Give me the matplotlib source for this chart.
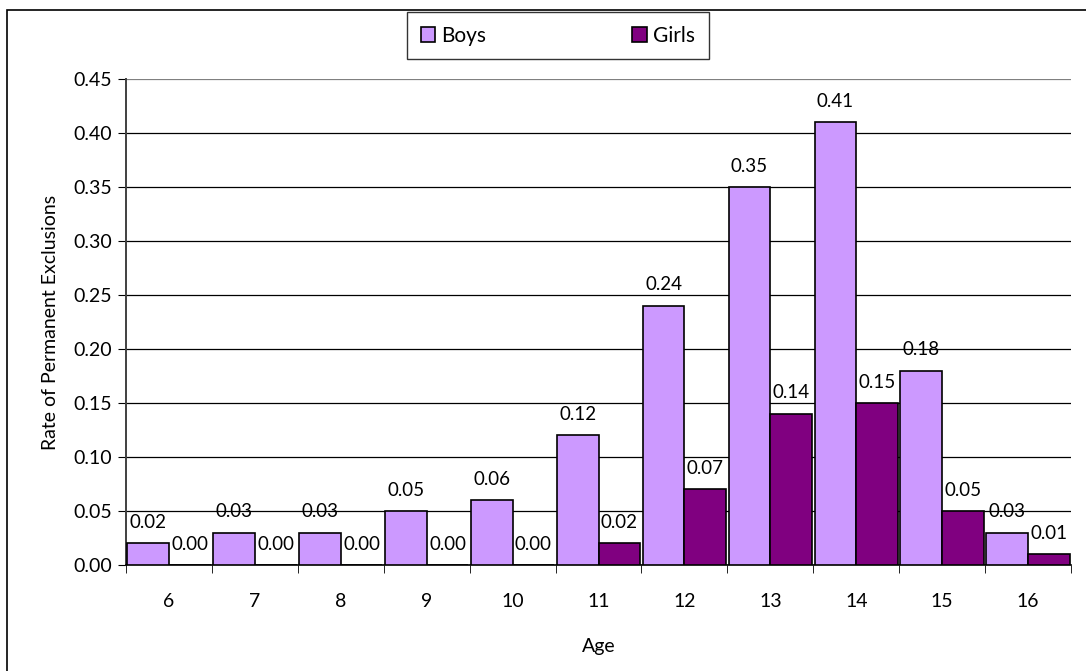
import numpy as np
import matplotlib
matplotlib.use("Agg")
from matplotlib import pyplot as plt
from matplotlib.patches import Rectangle

ages = ["6", "7", "8", "9", "10", "11", "12", "13", "14", "15", "16"]
boys = [0.02, 0.03, 0.03, 0.05, 0.06, 0.12, 0.24, 0.35, 0.41, 0.18, 0.03]
girls = [0.00, 0.00, 0.00, 0.00, 0.00, 0.02, 0.07, 0.14, 0.15, 0.05, 0.01]

plt.rcParams['font.family'] = ['Lato', 'DejaVu Sans']

fig = plt.figure(figsize=(10.86, 6.71), dpi=100)
ax = fig.add_axes([126 / 1086, 1 - 565 / 671, (1071 - 126) / 1086, (565 - 79) / 671])

# border around the whole chart (right and bottom run off the image)
fig.patches.append(Rectangle((7 / 1086, -0.05), 1.0, 1.05 - 10 / 671,
                             transform=fig.transFigure, fill=False,
                             edgecolor='black', linewidth=1.2))

x = np.arange(len(ages))
w = 0.485
b1 = ax.bar(x - w / 2, boys, w, color='#CC99FF', edgecolor='black', linewidth=1.2,
            label='Boys', zorder=3)
b2 = ax.bar(x + w / 2, girls, w, color='#800080', edgecolor='black', linewidth=1.2,
            label='Girls', zorder=3)

for xi, v in zip(x, boys):
    ax.annotate(f"{v:.2f}", (xi - w / 2, v), xytext=(0, 9), textcoords='offset points',
                ha='center', va='bottom', fontsize=13.5, zorder=4)
for xi, v in zip(x, girls):
    ax.annotate(f"{v:.2f}", (xi + w / 2, v), xytext=(0, 9), textcoords='offset points',
                ha='center', va='bottom', fontsize=13.5, zorder=4)

ax.set_xlim(-0.5, len(ages) - 0.5)
ax.set_ylim(0, 0.45)
yt = np.arange(0, 0.451, 0.05)
ax.set_yticks(yt)
ax.set_yticklabels([f"{t:.2f}" for t in yt], fontsize=14)
ax.yaxis.grid(True, color='black', linewidth=0.9, zorder=0)
ax.get_ygridlines()[-1].set_color('#808080')
ax.set_axisbelow(True)

ax.set_xticks(x)
ax.set_xticklabels(ages, fontsize=14)
ax.tick_params(axis='x', length=0, pad=20)
ax.set_xticks(np.arange(-0.5, len(ages), 1), minor=True)
ax.tick_params(axis='x', which='minor', length=6, color='black', direction='out')
ax.tick_params(axis='y', length=6, color='black', direction='out', pad=4)

for s in ['top', 'right']:
    ax.spines[s].set_visible(False)
ax.spines['left'].set_color('#404040')
ax.spines['left'].set_linewidth(1.4)
ax.spines['bottom'].set_color('black')
ax.spines['bottom'].set_linewidth(1.2)

ax.set_xlabel("Age", fontsize=14, labelpad=20)
ax.set_ylabel("Rate of Permanent Exclusions", fontsize=14, labelpad=10)

leg = fig.legend(handles=[b1, b2], loc='upper center', ncol=2,
                 bbox_to_anchor=(558 / 1086, 1 - 12 / 671), frameon=True,
                 fancybox=False, edgecolor='black', fontsize=15,
                 handlelength=0.7, handleheight=0.7, columnspacing=7.0,
                 borderpad=0.65, handletextpad=0.3, borderaxespad=0)
leg.get_frame().set_linewidth(1.0)

fig.savefig("out.png", dpi=100)
